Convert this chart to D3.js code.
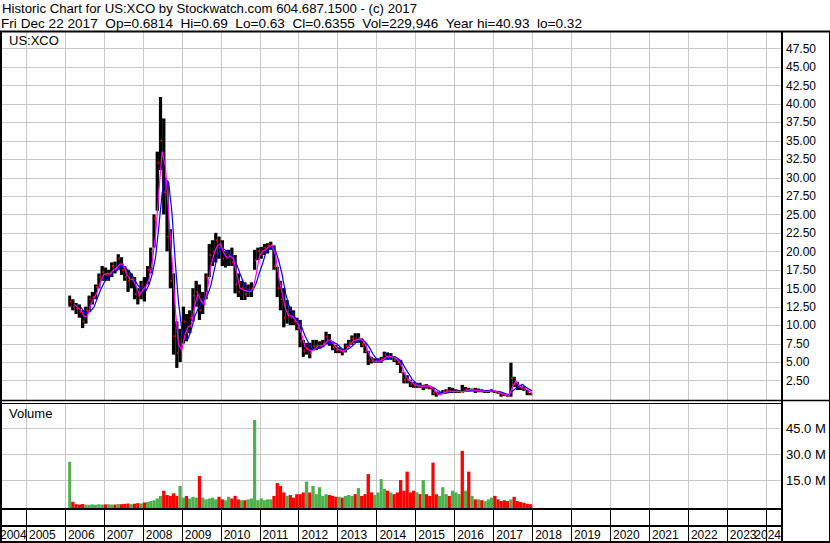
<!DOCTYPE html>
<html>
<head>
<meta charset="utf-8">
<script src="https://cdnjs.cloudflare.com/ajax/libs/d3/7.8.5/d3.min.js"></script>
<style>
  body { margin: 0; background: #fff; }
  svg { display: block; font-family: "Liberation Sans", Arial, sans-serif; }
  text { fill: #000; }
</style>
</head>
<body>
<div id="chart"></div>
<script>
const symbol = "US:XCO";
const titleLine = "Historic Chart for US:XCO by Stockwatch.com 604.687.1500 - (c) 2017";
const quoteLine = "Fri Dec 22 2017  Op=0.6814  Hi=0.69  Lo=0.63  Cl=0.6355  Vol=229,946  Year hi=40.93  lo=0.32";

// monthly bars, Feb 2006 .. Dec 2017
const highs = [
  14, 13.5, 13, 12.8, 12, 12.5, 14, 14.5, 15.5, 17, 18,
  17.8, 17.5, 18.5, 18.6, 19.6, 19.2, 18, 17.5, 17, 16.5, 15, 16,
  16.5, 18, 20.5, 25, 33.5, 40.9, 38, 29.5, 23, 17, 10.5, 9.5,
  12.5, 11.5, 12, 15, 16, 15.5, 14.5, 17, 21, 21.5, 22.5, 22,
  21.5, 20, 20.2, 20.5, 19.5, 17, 16, 15.8, 15.5, 15.8, 20.2, 20.5,
  20.6, 21, 21.1, 21.3, 20.8, 17.9, 16, 15, 13.4, 12.5, 12, 11,
  10.7, 8, 7.6, 7.6, 8, 8, 7.8, 8, 9.1, 8.8, 7.8, 7.3,
  7, 6.8, 7.5, 8, 8.6, 8.9, 8.9, 8.2, 7.6, 6.5, 5.7, 5.5,
  5.5, 5.7, 6.4, 6.3, 6.2, 5.8, 5.4, 5.3, 3.6, 3.2, 2.6, 2.3,
  2.1, 2.2, 1.9, 2.0, 1.8, 1.5, 1.0, 0.9, 1.2, 1.3, 1.6, 1.5,
  1.3, 1.2, 1.9, 1.6, 1.5, 1.4, 1.5, 1.4, 1.3, 1.2, 1.2, 1.3,
  1.1, 1.0, 0.9, 0.8, 0.6, 4.9, 3.0, 2.3, 1.9, 1.7, 1.2, 0.8
];
const lows = [
  12.5, 12, 11.5, 11, 9.6, 10.2, 11.8, 12.8, 13.5, 15, 16,
  16, 16, 16.5, 17, 17.5, 16.8, 16, 14.5, 15, 13.5, 12.8, 13.5,
  13.2, 15.5, 17, 20.5, 25.5, 31, 25, 20, 15, 6, 4.2, 5,
  7.5, 7.8, 8.9, 10.5, 12.5, 10.7, 11.5, 13.5, 16.5, 18, 18.5, 19,
  18, 17.8, 18, 18, 14.3, 13.8, 13.4, 13.4, 13.8, 13.8, 17.5, 18.8,
  19, 19.5, 19.7, 20.2, 17.5, 13.8, 12, 9.7, 10.2, 10, 10, 9.3,
  7, 5.7, 6, 5.5, 6.6, 6.6, 6.8, 7, 7.5, 7.2, 6.6, 6.2,
  6.2, 5.9, 6.3, 7, 7.3, 7.6, 7.6, 7, 6.2, 4.6, 4.8, 4.9,
  4.9, 4.9, 5.3, 5.3, 5.3, 5.0, 4.6, 3.5, 2.1, 2.1, 1.6, 1.5,
  1.5, 1.5, 1.2, 1.4, 1.3, 0.5, 0.3, 0.5, 0.7, 0.8, 0.8, 0.8,
  0.8, 0.8, 0.9, 1.1, 1.0, 1.0, 0.8, 0.9, 0.9, 0.8, 0.8, 0.9,
  0.8, 0.7, 0.3, 0.4, 0.3, 0.3, 1.6, 1.2, 1.2, 1.1, 0.5, 0.5
];
const closes = [
  13.2, 12.5, 12.2, 11.8, 10.5, 12, 13.5, 13.8, 15.2, 16.5, 17.2,
  16.8, 17, 18, 17.5, 19, 17.5, 16.5, 16, 16.3, 14.2, 14, 15.5,
  15, 17.5, 20, 24.5, 32, 35, 28, 22, 16, 8.5, 6.2, 7,
  10.5, 9, 11, 14, 14.5, 12, 13.5, 16.5, 19.5, 20, 21.5, 20.5,
  19, 19.2, 19.5, 18.5, 15.5, 14.5, 15, 14.2, 14.8, 15, 18.8, 20,
  20, 20.5, 20.8, 20.8, 18, 15, 13.5, 11, 11.5, 11, 10.5, 9.6,
  7.8, 6.5, 6.8, 6.2, 7.2, 7.2, 7.2, 7.5, 8.4, 7.6, 7, 6.6,
  6.6, 6.3, 7.2, 7.6, 8.2, 7.9, 8.3, 7.4, 6.5, 5.2, 5.1, 5.1,
  5.1, 5.4, 6.0, 5.6, 5.7, 5.3, 4.9, 3.6, 2.6, 2.5, 2.0, 1.8,
  1.8, 1.6, 1.8, 1.7, 1.5, 0.8, 0.5, 0.7, 1.0, 1.1, 1.0, 1.0,
  1.0, 1.0, 0.95, 1.3, 1.2, 1.2, 1.1, 1.1, 1.0, 1.0, 1.1, 1.1,
  0.9, 0.8, 0.6, 0.5, 0.4, 2.8, 2.0, 1.6, 1.5, 1.3, 0.9, 0.64
];
// millions of shares
const volumes = [
  25.7, 2.6, 1.2, 1.0, 1.3, 1.0, 0.9, 1.1, 0.9, 1.2, 1.0,
  1.1, 1.2, 1.0, 1.0, 1.3, 1.2, 1.4, 1.6, 1.2, 1.5, 1.8, 1.6,
  2.2, 2.5, 3.0, 3.5, 4.5, 6.0, 9.0, 6.5, 6.0, 7.5, 6.0, 11.7,
  5.0, 6.0, 4.5, 5.5, 5.0, 17.5, 5.0, 4.0, 4.5, 5.0, 4.0, 5.5,
  4.0, 3.5, 5.5, 4.5, 6.0, 4.0, 3.5, 3.5, 4.0, 4.5, 49.8, 3.5,
  4.5, 3.5, 4.0, 4.0, 6.0, 13.4, 11.7, 8.0, 6.0, 6.5, 5.0, 7.0,
  7.0, 8.0, 14.2, 8.0, 11.7, 7.0, 11.0, 6.0, 7.0, 6.5, 6.0, 5.5,
  5.5, 5.0, 6.0, 6.5, 6.0, 7.0, 10.5, 6.0, 7.0, 18.6, 8.0, 6.5,
  8.0, 15.7, 10.0, 9.0, 8.0, 7.0, 8.0, 15.2, 9.0, 20.0, 8.0, 9.0,
  8.0, 7.0, 15.2, 7.0, 6.0, 25.2, 7.0, 6.0, 11.0, 7.0, 6.0, 9.0,
  8.0, 7.0, 32.0, 9.0, 20.0, 6.0, 4.0, 4.0, 3.5, 3.0, 4.0, 5.0,
  6.0, 4.0, 3.0, 3.5, 3.0, 4.0, 5.5, 3.0, 2.5, 2.0, 1.5, 1.2
];
const years = d3.range(2004, 2025);
const priceTicks = d3.range(1, 20).map(i => i * 2.5);
const volumeTicks = [15, 30, 45];

const width = 830, height = 543;
const plotLeft = 2, plotRight = 781;
const priceTop = 32, priceBottom = 400;
const volTop = 403, volBottom = 508;
const gridColor = "#c8c8c8";

const svg = d3.select("#chart").append("svg")
    .attr("width", width)
    .attr("height", height);

const x = d3.scaleTime()
    .domain([new Date(2005, 0, 1), new Date(2024, 0, 1)])
    .range([26, 765.7]);
const y = d3.scaleLinear().domain([0, 50]).range([398.9, 29.9]);
const yVol = d3.scaleLinear().domain([0, 60]).range([506.3, 402.3]);

const bars = highs.map((h, i) => ({
    start: new Date(2006, 1 + i, 1),
    end: new Date(2006, 2 + i, 1),
    high: h, low: lows[i], close: closes[i], volume: volumes[i],
    up: i === 0 || closes[i] >= closes[i - 1]
}));

// simple moving averages of the closes, plotted at month end
function sma(n) {
    return bars.map((b, i) => i < n - 1 ? null :
        { date: b.end, value: d3.mean(closes.slice(i - n + 1, i + 1)) })
        .filter(d => d);
}

const defs = svg.append("defs");
defs.append("clipPath").attr("id", "clipPrice").append("rect")
    .attr("x", plotLeft).attr("y", priceTop)
    .attr("width", plotRight - plotLeft).attr("height", priceBottom - priceTop);
defs.append("clipPath").attr("id", "clipVol").append("rect")
    .attr("x", plotLeft).attr("y", volTop)
    .attr("width", plotRight - plotLeft).attr("height", volBottom - volTop);
defs.append("clipPath").attr("id", "clipYears").append("rect")
    .attr("x", 0).attr("y", 509)
    .attr("width", plotRight).attr("height", 34);

// header
svg.append("text").attr("x", 2).attr("y", 12.8).style("font-size", "13px")
    .attr("textLength", 415).attr("lengthAdjust", "spacingAndGlyphs")
    .text(titleLine);
svg.append("text").attr("x", 1).attr("y", 27.5).style("font-size", "13px")
    .attr("xml:space", "preserve").style("white-space", "pre")
    .attr("textLength", 581).attr("lengthAdjust", "spacingAndGlyphs")
    .text(quoteLine);

// grids
const grid = svg.append("g").attr("stroke", gridColor).attr("stroke-width", 1);
const yearDates = years.map(yr => new Date(yr, 0, 1));
const gridYears = yearDates.filter(d => x(d) > plotLeft && x(d) < plotRight);
grid.selectAll(".vp").data(gridYears).enter().append("line")
    .attr("x1", d => Math.round(x(d)) + 0.5).attr("x2", d => Math.round(x(d)) + 0.5)
    .attr("y1", priceTop).attr("y2", priceBottom);
grid.selectAll(".vv").data(gridYears).enter().append("line")
    .attr("x1", d => Math.round(x(d)) + 0.5).attr("x2", d => Math.round(x(d)) + 0.5)
    .attr("y1", volTop).attr("y2", volBottom);
grid.selectAll(".hp").data(priceTicks).enter().append("line")
    .attr("x1", plotLeft).attr("x2", plotRight)
    .attr("y1", d => Math.round(y(d)) + 0.5).attr("y2", d => Math.round(y(d)) + 0.5);
grid.selectAll(".hv").data(volumeTicks).enter().append("line")
    .attr("x1", plotLeft).attr("x2", plotRight)
    .attr("y1", d => Math.round(yVol(d)) + 0.5).attr("y2", d => Math.round(yVol(d)) + 0.5);

// price bars
const price = svg.append("g").attr("clip-path", "url(#clipPrice)");
price.selectAll(".bar").data(bars).enter().append("rect")
    .attr("x", d => x(d.start))
    .attr("width", d => x(d.end) - x(d.start))
    .attr("y", d => y(d.high))
    .attr("height", d => Math.max(1, y(d.low) - y(d.high)))
    .attr("fill", "#000");
price.selectAll(".cl").data(bars).enter().append("rect")
    .attr("x", d => x(d.end) - 1.5)
    .attr("width", 1.5)
    .attr("y", d => y(d.close) - 1)
    .attr("height", 2)
    .attr("fill", "#ff0000");

const line = d3.line().x(d => x(d.date)).y(d => y(d.value));
price.append("path").datum(sma(4))
    .attr("d", line).attr("fill", "none")
    .attr("stroke", "#0000ff").attr("stroke-width", 1.2);
price.append("path").datum(sma(2))
    .attr("d", line).attr("fill", "none")
    .attr("stroke", "#ff00ff").attr("stroke-width", 1.2);

// volume bars
const vol = svg.append("g").attr("clip-path", "url(#clipVol)");
vol.selectAll("rect").data(bars).enter().append("rect")
    .attr("x", d => x(d.start))
    .attr("width", d => x(d.end) - x(d.start))
    .attr("y", d => yVol(d.volume))
    .attr("height", d => volBottom - yVol(d.volume))
    .attr("fill", d => d.up ? "#4cb04c" : "#ff0000");

// panel labels
svg.append("text").attr("x", 9).attr("y", 45).style("font-size", "13px").text(symbol);
svg.append("text").attr("x", 9).attr("y", 418).style("font-size", "13px").text("Volume");

// right axes
const priceAxis = svg.append("g")
    .attr("transform", `translate(${plotRight + 1},0)`)
    .call(d3.axisRight(y).tickValues(priceTicks).tickFormat(d3.format(".2f"))
        .tickSize(0).tickPadding(4));
priceAxis.select(".domain").remove();
priceAxis.selectAll("text").style("font-size", "12px").attr("fill", "#000")
    .style("font-family", "Liberation Sans, Arial, sans-serif");

const volAxis = svg.append("g")
    .attr("transform", `translate(${plotRight + 1},0)`)
    .call(d3.axisRight(yVol).tickValues(volumeTicks).tickFormat(d => d.toFixed(1) + " M")
        .tickSize(0).tickPadding(4));
volAxis.select(".domain").remove();
volAxis.selectAll("text").style("font-size", "13px").attr("fill", "#000")
    .style("font-family", "Liberation Sans, Arial, sans-serif");

// year rows
const yearRow = svg.append("g").attr("clip-path", "url(#clipYears)");
yearRow.selectAll("line").data(yearDates).enter().append("line")
    .attr("x1", d => Math.round(x(d)) + 0.5).attr("x2", d => Math.round(x(d)) + 0.5)
    .attr("y1", 509).attr("y2", 542)
    .attr("stroke", "#000");
const yearText = yearRow.selectAll("text").data(yearDates).enter().append("text")
    .attr("y", 539)
    .style("font-size", "12px")
    .text(d => d.getFullYear());
yearText.attr("x", function (d) {
    const w = this.getComputedTextLength();
    let px = x(d) + 3;
    px = Math.max(px, 0);
    px = Math.min(px, plotRight - w);
    return px;
});

// frame
const frame = svg.append("g").attr("stroke", "#000").attr("fill", "none");
frame.append("line").attr("x1", 0).attr("x2", width).attr("y1", 31.5).attr("y2", 31.5).attr("stroke-width", 2);
frame.append("line").attr("x1", 1).attr("x2", 1).attr("y1", 31).attr("y2", height).attr("stroke-width", 2);
frame.append("line").attr("x1", 782).attr("x2", 782).attr("y1", 31).attr("y2", height).attr("stroke-width", 2);
frame.append("line").attr("x1", 829.5).attr("x2", 829.5).attr("y1", 31).attr("y2", height).attr("stroke-width", 1);
frame.append("line").attr("x1", 0).attr("x2", width).attr("y1", 400.5).attr("y2", 400.5).attr("stroke-width", 1.5);
frame.append("line").attr("x1", 0).attr("x2", 782).attr("y1", 403.5).attr("y2", 403.5).attr("stroke-width", 1);
frame.append("line").attr("x1", 0).attr("x2", 782).attr("y1", 509).attr("y2", 509).attr("stroke-width", 2);
frame.append("line").attr("x1", 0).attr("x2", 782).attr("y1", 526).attr("y2", 526).attr("stroke-width", 2);
frame.append("line").attr("x1", 0).attr("x2", width).attr("y1", 542).attr("y2", 542).attr("stroke-width", 2);
</script>
</body>
</html>
